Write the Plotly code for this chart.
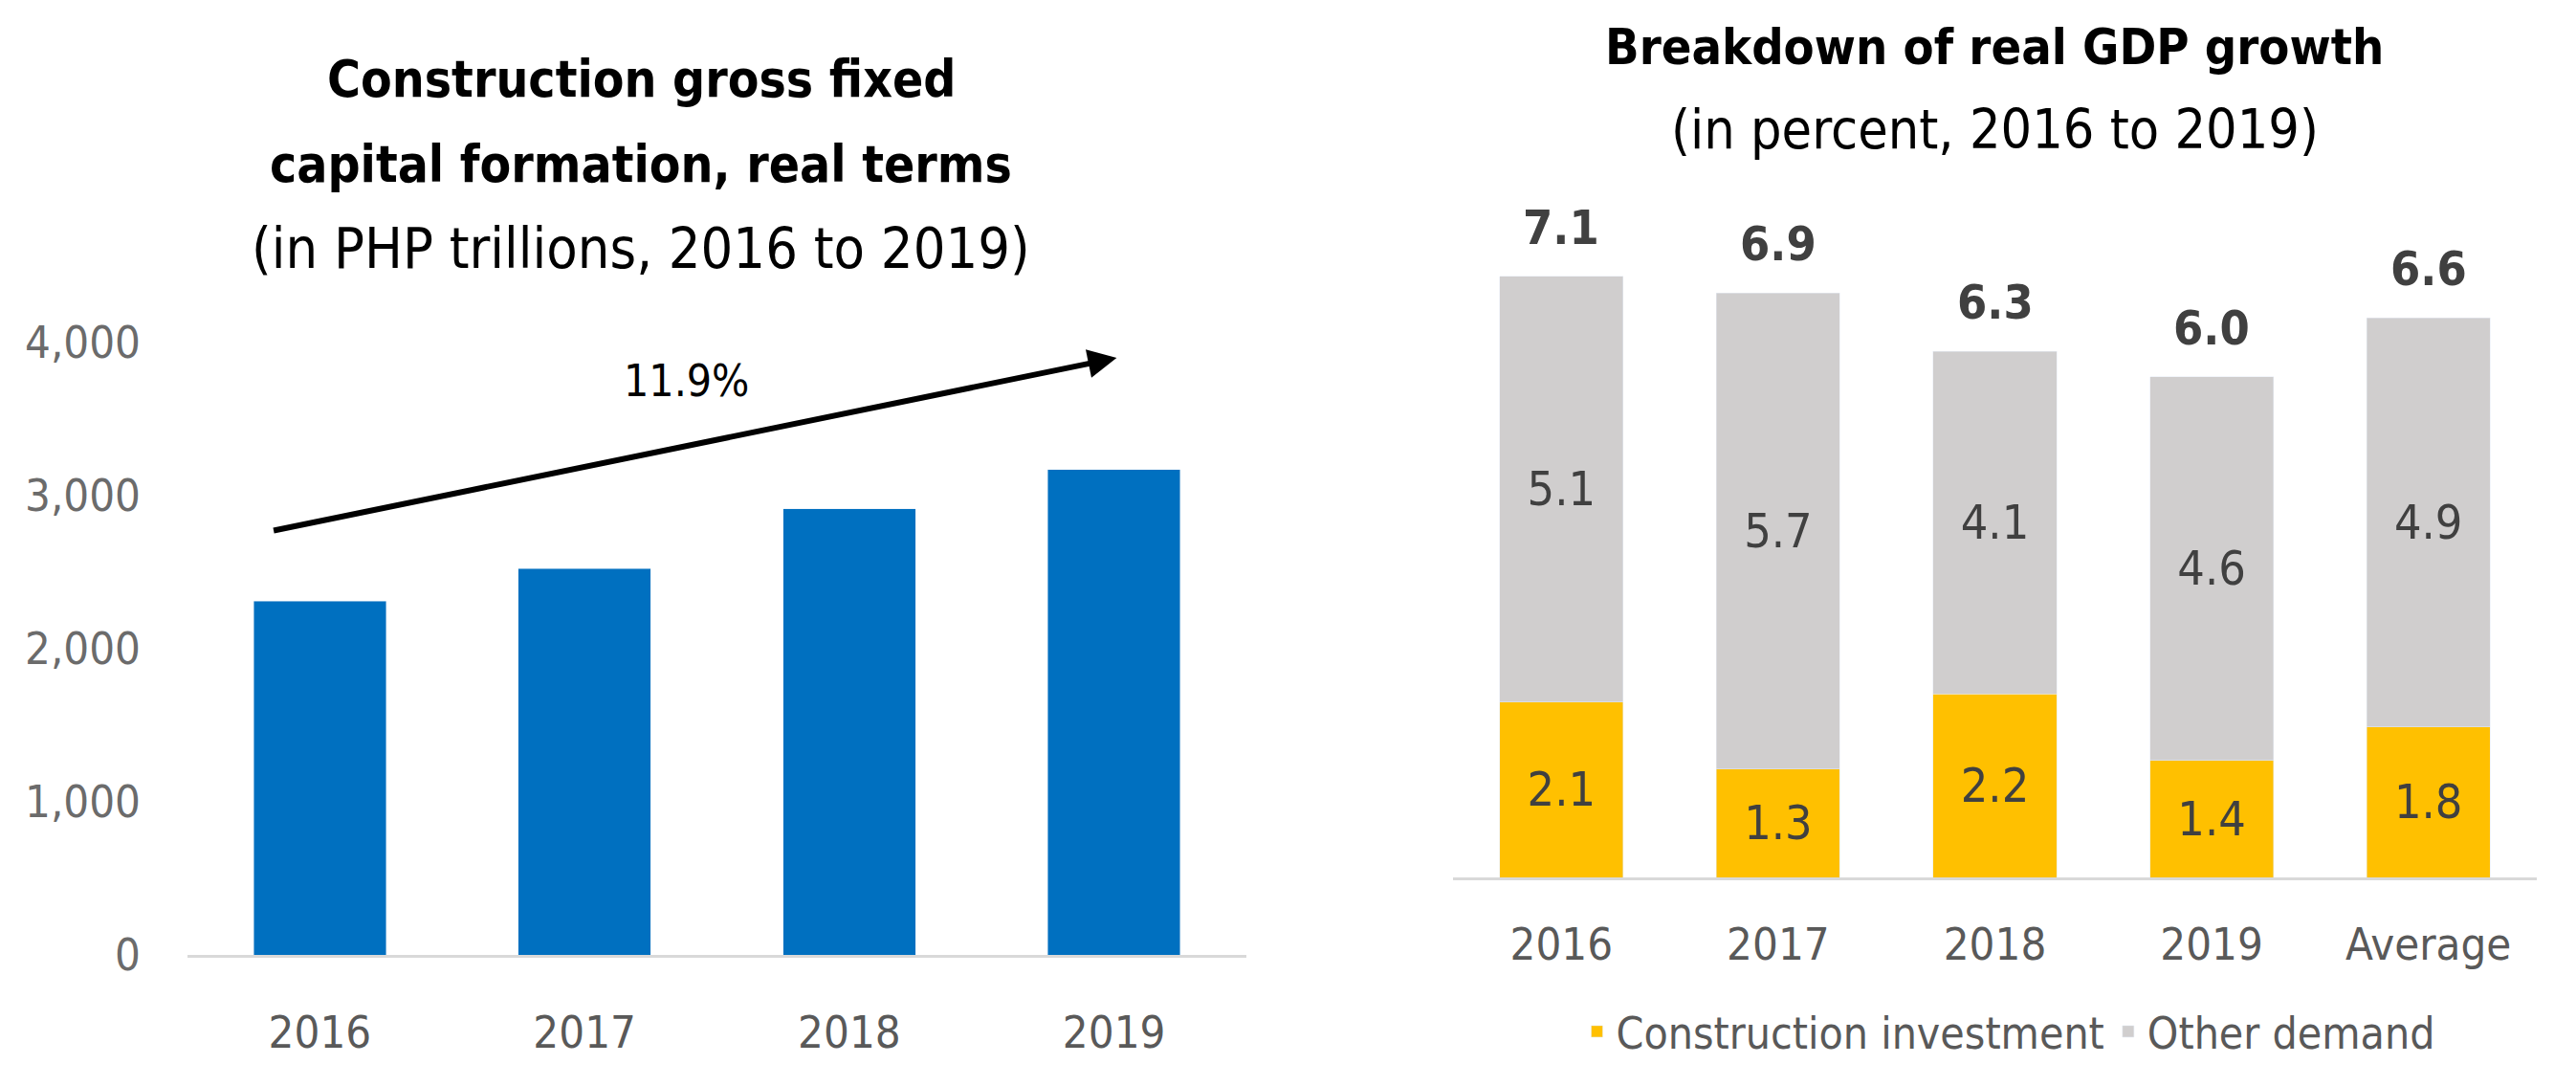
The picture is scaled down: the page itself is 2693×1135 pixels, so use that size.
import plotly.graph_objects as go

# left chart: construction GFCF, real terms (PHP)
years = ["2016", "2017", "2018", "2019"]
gfcf = [2310, 2525, 2915, 3170]
growth_label = "11.9%"

# right chart: breakdown of real GDP growth (percent)
gdp_cats = ["2016", "2017", "2018", "2019", "Average"]
construction = [2.1, 1.3, 2.2, 1.4, 1.8]
other_demand = [5.1, 5.7, 4.1, 4.6, 4.9]
gdp_total = [7.1, 6.9, 6.3, 6.0, 6.6]

FONT = "DejaVu Sans Condensed, Liberation Sans Narrow, Roboto, sans-serif"
BLUE = "#0070C0"
YELLOW = "#FFC000"
GREY = "#D0CECE"
TXT = "#404040"

W, H = 2693, 1135
OFF = 8  # page body margin in the browser


def fx(px):
    return (px - OFF) / W


def fy(py):
    return 1 - (py - OFF) / H


fig = go.Figure()

fig.add_trace(go.Bar(
    x=years, y=gfcf, width=0.5, marker_color=BLUE,
    xaxis="x", yaxis="y", showlegend=False
))

fig.add_trace(go.Bar(
    x=gdp_cats, y=construction, width=0.57, marker_color=YELLOW,
    name="Construction investment", xaxis="x2", yaxis="y2",
    texttemplate="%{y:.1f}", textposition="inside", insidetextanchor="middle",
    textfont=dict(size=50, color=TXT, family=FONT), constraintext="none"
))
fig.add_trace(go.Bar(
    x=gdp_cats, y=other_demand, width=0.57, marker_color=GREY,
    name="Other demand", xaxis="x2", yaxis="y2",
    texttemplate="%{y:.1f}", textposition="inside", insidetextanchor="middle",
    textfont=dict(size=50, color=TXT, family=FONT), constraintext="none"
))

annotations = []

# totals above the stacked bars (x given as category index)
for i, (c, o, t) in enumerate(zip(construction, other_demand, gdp_total)):
    annotations.append(dict(
        x=i, y=c + o, xref="x2", yref="y2", text=f"<b>{t:.1f}</b>",
        showarrow=False, xanchor="center", yanchor="bottom", yshift=20,
        font=dict(size=50, color=TXT, family=FONT)
    ))

# growth arrow on the left chart
annotations.append(dict(
    x=3.01, y=3900, ax=-0.18, ay=2770, xref="x", yref="y", axref="x", ayref="y",
    text="", showarrow=True, arrowhead=2, arrowsize=1, arrowwidth=6,
    arrowcolor="black", standoff=0, startstandoff=0
))
annotations.append(dict(
    x=1.386, y=3750, xref="x", yref="y", text=growth_label, showarrow=False,
    xanchor="center", yanchor="middle",
    font=dict(size=46, color="black", family=FONT)
))


# titles
def title(x, y, text, size):
    return dict(x=fx(x), y=fy(y), xref="paper", yref="paper", showarrow=False,
                xanchor="center", yanchor="middle", text=text,
                font=dict(size=size, color="black", family=FONT))


annotations += [
    title(670, 83, "<b>Construction gross fixed</b>", 53),
    title(670, 171, "<b>capital formation, real terms</b>", 53),
    title(670, 259, "(in PHP trillions, 2016 to 2019)", 59),
    title(2085, 49, "<b>Breakdown of real GDP growth</b>", 52),
    title(2085, 135, "(in percent, 2016 to 2019)", 57),
]

fig.update_layout(
    width=W, height=H,
    margin=dict(l=0, r=0, t=0, b=0),
    paper_bgcolor="white", plot_bgcolor="white",
    barmode="stack",
    font=dict(family=FONT, color="#595959"),
    xaxis=dict(domain=[fx(196), fx(1303)], type="category", range=[-0.5, 3.5], showline=True,
               linecolor="#D9D9D9", linewidth=3, showgrid=False, automargin=False,
               tickfont=dict(size=47, color="#595959"), ticklabelstandoff=38),
    yaxis=dict(domain=[fy(998), fy(358)], range=[0, 4000], tickvals=[0, 1000, 2000, 3000, 4000],
               tickformat=",", showgrid=False, zeroline=False, showline=False, automargin=False,
               tickfont=dict(size=47, color="#6B6B6B"), ticklabelstandoff=48),
    xaxis2=dict(domain=[fx(1519), fx(2652)], anchor="y2", type="category", range=[-0.5, 4.5],
                showline=True, linecolor="#D9D9D9", linewidth=3, showgrid=False, automargin=False,
                tickfont=dict(size=47, color="#595959"), ticklabelstandoff=27),
    yaxis2=dict(domain=[fy(917), fy(219)], anchor="x2", range=[0, 8], visible=False,
                automargin=False),
    legend=dict(orientation="h", x=fx(2100), y=fy(1078), xanchor="center", yanchor="middle",
                traceorder="normal", font=dict(size=46, color="#595959", family=FONT)),
    annotations=annotations,
)

fig.write_html("out.html")
